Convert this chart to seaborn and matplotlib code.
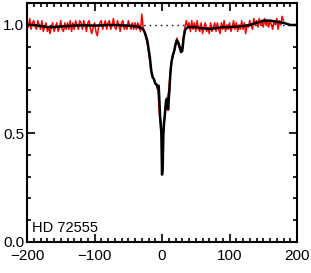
import matplotlib
matplotlib.use("Agg")
import matplotlib.pyplot as plt
import numpy as np
import seaborn as sns
from matplotlib.ticker import MultipleLocator

# observed profile (red), sampled every 2 km/s from -200 to 180
obs_vel = np.arange(-200, 182, 2)
obs_flux = [
    1.02, 0.99, 1.03, 0.98, 1.01, 1.02, 0.99, 0.98, 1.02, 1.00,
    0.98, 1.02, 0.97, 0.99, 1.01, 0.97, 0.99, 0.96, 0.99, 1.01,
    0.97, 0.99, 1.01, 0.97, 0.99, 1.02, 0.98, 0.97, 1.01, 0.98,
    1.01, 0.98, 1.02, 0.97, 1.01, 0.98, 1.02, 1.00, 0.98, 1.02,
    1.01, 0.98, 1.02, 1.00, 0.97, 1.01, 1.02, 0.98, 0.96, 0.99,
    1.01, 0.97, 0.95, 0.99, 1.01, 1.02, 0.98, 1.00, 1.02, 0.98,
    1.01, 1.02, 0.98, 1.00, 1.03, 0.99, 0.98, 1.02, 1.00, 0.97,
    1.01, 1.02, 0.98, 1.00, 0.98, 1.02, 1.00, 0.98, 1.01, 0.98,
    1.01, 0.98, 1.01, 0.99, 0.97, 1.05, 0.99, 0.97, 0.94, 0.92,
    0.88, 0.83, 0.78, 0.76, 0.75, 0.73, 0.72, 0.69, 0.60, 0.52,
    0.47, 0.50, 0.57, 0.62, 0.66, 0.70, 0.78, 0.82, 0.86, 0.88,
    0.91, 0.94, 0.91, 0.89, 0.88, 0.90, 0.95, 0.99, 1.02, 0.99,
    1.01, 0.97, 1.02, 0.98, 1.01, 0.97, 1.02, 0.98, 0.97, 1.01,
    0.96, 0.99, 1.01, 0.97, 0.99, 0.96, 1.01, 0.97, 0.99, 1.01,
    0.97, 1.01, 0.98, 0.96, 1.01, 0.98, 1.02, 0.97, 1.00, 0.98,
    1.01, 0.97, 0.99, 1.02, 0.98, 1.01, 0.97, 1.00, 0.98, 1.02,
    0.98, 1.01, 0.96, 1.00, 0.99, 1.02, 1.00, 0.98, 1.03, 1.00,
    1.02, 0.99, 1.03, 1.00, 1.02, 0.99, 1.03, 1.00, 1.02, 0.99,
    1.02, 1.00, 0.98, 1.02, 1.00, 1.03, 0.98, 1.02, 1.00, 1.04,
    1.02,
]

# model profile (black)
mod_vel = [-200, -190, -180, -170, -160, -150, -140, -130, -120, -110,
           -100, -90, -80, -70, -60, -50, -40, -35, -30, -27,
           -25, -22, -20, -18, -16, -14, -12, -10, -8, -6,
           -5, -4, -3, -2, -1, 0, 1, 2, 3, 4,
           5, 6, 7, 8, 9, 10, 11, 12, 13, 14,
           16, 18, 20, 22, 24, 26, 28, 30, 32, 34,
           36, 40, 50, 60, 70, 80, 90, 100, 110, 120,
           130, 140, 150, 160, 170, 180, 190, 200]
mod_flux = [1.00, 1.00, 0.995, 0.99, 0.99, 0.993, 0.995, 0.997, 0.998, 0.998,
            0.997, 0.998, 1.00, 1.00, 0.998, 0.997, 0.994, 0.99, 0.985, 0.975,
            0.96, 0.93, 0.89, 0.85, 0.79, 0.76, 0.75, 0.73, 0.725, 0.71,
            0.72, 0.66, 0.58, 0.55, 0.50, 0.31, 0.35, 0.50, 0.55, 0.58,
            0.62, 0.65, 0.66, 0.65, 0.61, 0.66, 0.70, 0.76, 0.80, 0.83,
            0.86, 0.88, 0.91, 0.93, 0.92, 0.90, 0.875, 0.88, 0.94, 0.975,
            0.985, 0.99, 0.99, 0.985, 0.982, 0.985, 0.99, 0.99, 0.992, 0.995,
            1.00, 1.01, 1.02, 1.02, 1.015, 1.01, 1.00, 1.00]

star = "HD 72555"

sns.set_style("ticks")
plt.rcParams["font.family"] = ["Liberation Sans", "DejaVu Sans"]

fig = plt.figure(figsize=(3.11, 2.73), dpi=100)
ax = fig.add_axes([0.087, 0.114, 0.868, 0.874])

ax.axhline(1.0, color="black", linestyle=(0, (1, 3)), linewidth=1.0, zorder=1)
sns.lineplot(x=obs_vel, y=obs_flux, color="red", linewidth=1.1,
             sort=False, estimator=None, ax=ax, zorder=2)
sns.lineplot(x=mod_vel, y=mod_flux, color="black", linewidth=1.8,
             sort=False, estimator=None, ax=ax, zorder=3)

ax.set_xlim(-200, 200)
ax.set_ylim(0, 1.1)
ax.xaxis.set_major_locator(MultipleLocator(100))
ax.xaxis.set_minor_locator(MultipleLocator(10))
ax.yaxis.set_major_locator(MultipleLocator(0.5))
ax.yaxis.set_minor_locator(MultipleLocator(0.1))
ax.yaxis.set_major_formatter(plt.FuncFormatter(lambda v, p: f"{v:.1f}"))
ax.xaxis.set_major_formatter(
    plt.FuncFormatter(lambda v, p: f"{v:.0f}".replace("-", "\u2212")))
ax.tick_params(which="both", direction="in", top=True, right=True,
               labelsize=11, width=1.2, colors="black")
ax.tick_params(which="major", length=6)
ax.tick_params(axis="x", which="major", pad=5)
ax.tick_params(axis="y", which="major", pad=2)
ax.tick_params(which="minor", length=3)
for s in ax.spines.values():
    s.set_linewidth(1.5)
    s.set_color("black")

ax.text(-192, 0.03, star, fontsize=10.5, ha="left", va="bottom", color="black")
ax.set_xlabel("")
ax.set_ylabel("")

fig.savefig("out.png", dpi=100)
